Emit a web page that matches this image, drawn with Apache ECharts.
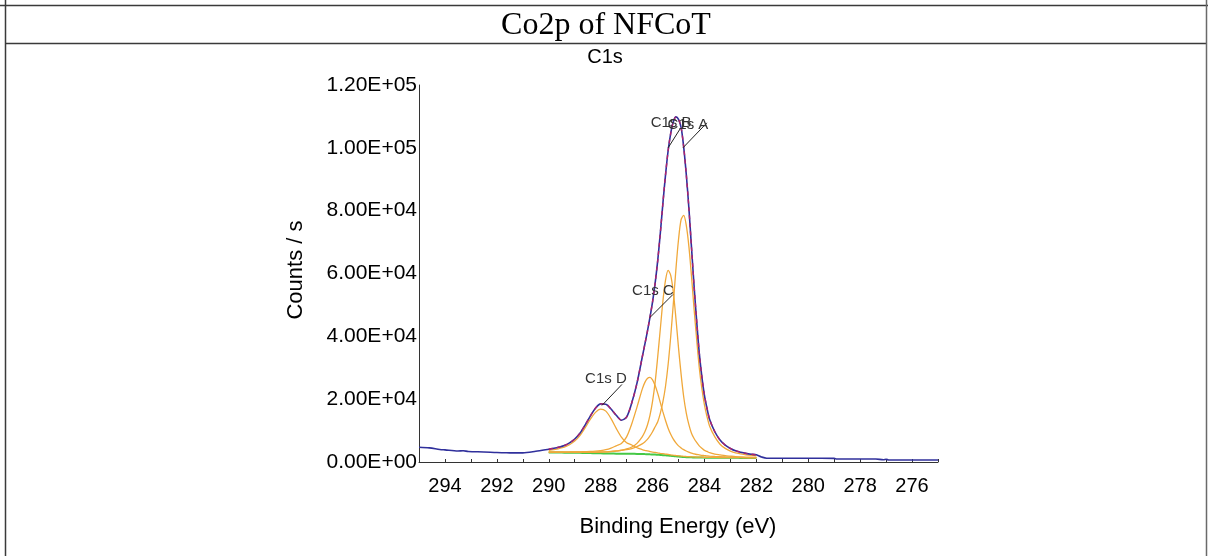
<!DOCTYPE html>
<html>
<head>
<meta charset="utf-8">
<script src="https://cdn.jsdelivr.net/npm/echarts@6/dist/echarts.min.js"></script>
<style>
  html, body { margin: 0; padding: 0; background: #ffffff; }
  #chart { width: 1208px; height: 556px; }
</style>
</head>
<body>
<div id="chart"></div>
<script>
// C1s region: binding energies (eV) of the fitted region
const regionEnergy = [
  290.0, 289.8, 289.6, 289.4, 289.2, 289.0, 288.8, 288.6, 288.4, 288.2,
  288.0, 287.8, 287.6, 287.4, 287.2, 287.0, 286.8, 286.6, 286.4,
  286.3, 286.2, 286.1, 286.0, 285.9, 285.8, 285.7, 285.6, 285.5, 285.4,
  285.3, 285.2, 285.1, 285.0, 284.9, 284.8, 284.7, 284.6, 284.5, 284.4,
  284.3, 284.2, 284.1, 284.0, 283.9, 283.8,
  283.6, 283.4, 283.2, 283.0, 282.8, 282.6, 282.4, 282.2, 282.0
];

// Shirley-type background (counts / s)
const background = [
  3000, 3000, 2990, 2980, 2960, 2940, 2910, 2880, 2840, 2800,
  2760, 2720, 2690, 2660, 2640, 2620, 2600, 2580, 2540,
  2510, 2480, 2440, 2400, 2350, 2300, 2240, 2180, 2110, 2040,
  1960, 1880, 1800, 1730, 1660, 1600, 1550, 1510, 1480, 1450,
  1430, 1410, 1400, 1390, 1380, 1370,
  1360, 1350, 1340, 1330, 1320, 1310, 1300, 1290, 1280
];

// Fitted components, drawn on top of the background (counts / s)
const peakA = [
  3150, 3160, 3170, 3170, 3170, 3160, 3160, 3160, 3150, 3170,
  3190, 3230, 3370, 3480, 3690, 3940, 4290, 4890, 5770,
  6360, 7180, 8290, 9640, 11210, 12800, 15540, 19180, 24110, 31040,
  39960, 50380, 61300, 70730, 77120, 78520, 75320, 68650, 59230, 48730,
  39010, 30050, 23420, 18180, 14390, 11380,
  7980, 5660, 4340, 3490, 2900, 2580, 2300, 2090, 1930
];
const peakB = [
  3110, 3120, 3120, 3120, 3120, 3110, 3100, 3100, 3090, 3100,
  3120, 3220, 3330, 3520, 3740, 4140, 4780, 5940, 8030,
  9530, 11680, 14830, 19270, 25420, 33570, 42420, 51270, 57870, 60980,
  59430, 54100, 45760, 36420, 27970, 20780, 15590, 11890, 9150, 7470,
  6210, 5130, 4350, 3690, 3360, 2960,
  2520, 2260, 2010, 1860, 1720, 1620, 1560, 1510, 1470
];
const peakC = [
  3110, 3120, 3140, 3160, 3180, 3210, 3240, 3290, 3340, 3460,
  3640, 3920, 4430, 5160, 5900, 8000, 12180, 17480, 23120,
  25270, 26560, 26920, 26120, 24350, 21830, 18900, 15950, 13210, 10760,
  8820, 7270, 6110, 5140, 4480, 3930, 3490, 3130, 2800, 2580,
  2390, 2270, 2130, 2030, 1920, 1850,
  1750, 1670, 1600, 1550, 1490, 1460, 1420, 1400, 1380
];
const peakD = [
  3705, 3960, 4290, 4740, 5500, 6650, 8380, 10850, 13560, 15800,
  16820, 16190, 13800, 10700, 7900, 6100, 5420, 4530, 3960,
  3720, 3540, 3340, 3160, 3030, 2890, 2760, 2640, 2520, 2410,
  2280, 2170, 2070, 1980, 1890, 1810, 1745, 1690, 1645, 1600,
  1570, 1540, 1520, 1500, 1485, 1470,
  1455, 1440, 1425, 1410, 1395, 1380, 1365, 1350, 1340
];

// Envelope of the fit (counts / s)
const envelope = [
  4075, 4360, 4750, 5250, 6090, 7310, 9150, 11760, 14620, 17130,
  18490, 18400, 16860, 14880, 13310, 14320, 18870, 25100, 33260,
  37350, 41520, 46060, 50990, 56960, 64190, 72900, 82500, 91380, 99070,
  104610, 108280, 109840, 109080, 106480, 100240, 91500, 80830, 68390, 56030,
  44890, 34760, 27220, 21230, 17020, 13550,
  9630, 6980, 5360, 4320, 3550, 3110, 2750, 2480, 2280
];

// Measured spectrum outside the fitted region
const scanLowEnergySideE = [281.8, 281.6, 281.0, 280.0, 279.0, 278.9, 278.0, 277.4, 277.1, 277.0, 276.9, 276.0, 275.0];
const scanLowEnergySideC = [1600, 1200, 1180, 1180, 1150, 960, 960, 950, 700, 860, 650, 640, 640];
const scanHighEnergySideE = [295.0, 294.6, 294.2, 294.0, 293.5, 293.3, 293.1, 292.5, 292.0, 291.7, 291.5, 291.0, 290.5];
const scanHighEnergySideC = [4700, 4500, 4000, 3850, 3500, 3600, 3350, 3200, 3000, 2950, 2900, 2900, 3400];

// Component labels and where their leaders touch the envelope
const labelNames = ['C1s A', 'C1s B', 'C1s C', 'C1s D'];
const labelEnergy = [284.83, 285.40, 286.10, 287.95];
const labelCounts = [100000, 100000, 46000, 18000];

// Axis settings
const xRange = [275, 295];
const yTicks = [0, 20000, 40000, 60000, 80000, 100000, 120000];

const FONT = '"Liberation Sans", Arial, sans-serif';
const pair = (xs, ys) => xs.map((x, i) => [x, ys[i]]);

function sci(v) {
  const s = Number(v).toExponential(2).toUpperCase();
  const parts = s.split('E');
  const sign = parts[1][0];
  const digits = parts[1].slice(1).padStart(2, '0');
  return parts[0] + 'E' + sign + digits;
}

// leader line end (dx, dy) and label centre relative to that end (tx, ty), in px
const leaderStyle = [
  [24, -25, -19, 2],
  [12, -19, -9, -6],
  [23, -23, -20, -4],
  [20, -21, -16, -6]
];

const countsLine = pair(scanHighEnergySideE, scanHighEnergySideC)
  .concat(pair(regionEnergy, envelope))
  .concat(pair(scanLowEnergySideE, scanLowEnergySideC));

const chart = echarts.init(document.getElementById('chart'), null, { renderer: 'canvas' });

const lineBase = { type: 'line', showSymbol: false, symbol: 'none', smooth: 0.3, animation: false };
const orange = '#F0A83A';

const option = {
  animation: false,
  backgroundColor: '#ffffff',
  grid: { left: 419, right: 270, top: 85, bottom: 94 },
  xAxis: {
    type: 'value',
    min: xRange[0],
    max: xRange[1],
    interval: 1,
    inverse: true,
    axisLine: { lineStyle: { color: '#333333', width: 1 } },
    axisTick: { inside: true, length: 3, lineStyle: { color: '#333333' } },
    splitLine: { show: false },
    axisLabel: {
      formatter: v => (v % 2 === 0 ? String(v) : ''),
      color: '#000000', fontSize: 20, fontFamily: FONT, margin: 14
    }
  },
  yAxis: {
    type: 'value',
    min: yTicks[0],
    max: yTicks[yTicks.length - 1],
    interval: yTicks[1] - yTicks[0],
    axisLine: { show: true, lineStyle: { color: '#333333', width: 1 } },
    axisTick: { show: false },
    splitLine: { show: false },
    axisLabel: {
      formatter: sci, color: '#000000', fontSize: 21, fontFamily: FONT,
      margin: 2, padding: [4, 0, 0, 0]
    }
  },
  series: [
    Object.assign({}, lineBase, {
      name: 'Background', data: pair(regionEnergy, background), z: 2,
      lineStyle: { color: '#45C845', width: 2 }
    }),
    Object.assign({}, lineBase, {
      name: 'C1s A', data: pair(regionEnergy, peakA), z: 3,
      lineStyle: { color: orange, width: 1.3 }
    }),
    Object.assign({}, lineBase, {
      name: 'C1s B', data: pair(regionEnergy, peakB), z: 3,
      lineStyle: { color: orange, width: 1.3 }
    }),
    Object.assign({}, lineBase, {
      name: 'C1s C', data: pair(regionEnergy, peakC), z: 3,
      lineStyle: { color: orange, width: 1.3 }
    }),
    Object.assign({}, lineBase, {
      name: 'C1s D', data: pair(regionEnergy, peakD), z: 3,
      lineStyle: { color: orange, width: 1.3 }
    }),
    Object.assign({}, lineBase, {
      name: 'Counts', data: countsLine, z: 4,
      lineStyle: { color: '#30309C', width: 1.6 }
    }),
    Object.assign({}, lineBase, {
      name: 'Envelope', data: pair(regionEnergy, envelope), z: 5,
      lineStyle: { color: '#B0236C', width: 1.4, type: [4, 4] }
    }),
    {
      type: 'custom',
      name: 'Labels',
      z: 6,
      animation: false,
      encode: { x: 0, y: 1 },
      data: labelNames.map((n, i) => [labelEnergy[i], labelCounts[i]]),
      renderItem: function (params, api) {
        const p = api.coord([api.value(0), api.value(1)]);
        const s = leaderStyle[params.dataIndex];
        const ex = p[0] + s[0], ey = p[1] + s[1];
        return {
          type: 'group',
          children: [
            { type: 'line', shape: { x1: p[0], y1: p[1], x2: ex, y2: ey },
              style: { stroke: '#222222', lineWidth: 1 } },
            { type: 'text', x: ex + s[2], y: ey + s[3],
              style: { text: labelNames[params.dataIndex], fill: '#333333',
                       font: '15px ' + FONT, align: 'center', verticalAlign: 'middle' } }
          ]
        };
      }
    }
  ],
  graphic: [
    { type: 'line', shape: { x1: 0, y1: 5.5, x2: 1208, y2: 5.5 }, style: { stroke: '#3a3a3a', lineWidth: 1.5 } },
    { type: 'line', shape: { x1: 5, y1: 43.5, x2: 1207, y2: 43.5 }, style: { stroke: '#3a3a3a', lineWidth: 1.5 } },
    { type: 'line', shape: { x1: 5.5, y1: 0, x2: 5.5, y2: 556 }, style: { stroke: '#3a3a3a', lineWidth: 1.5 } },
    { type: 'line', shape: { x1: 1206.5, y1: 0, x2: 1206.5, y2: 556 }, style: { stroke: '#6a6a6a', lineWidth: 1.5 } },
    { type: 'text', x: 606, y: 26,
      style: { text: 'Co2p of NFCoT', font: '32px "Liberation Serif", "Times New Roman", serif',
               fill: '#000000', textAlign: 'center', textVerticalAlign: 'middle' } },
    { type: 'text', x: 605, y: 57,
      style: { text: 'C1s', font: '20px ' + FONT, fill: '#000000',
               textAlign: 'center', textVerticalAlign: 'middle' } },
    { type: 'text', x: 678, y: 527,
      style: { text: 'Binding Energy (eV)', font: '22px ' + FONT, fill: '#000000',
               textAlign: 'center', textVerticalAlign: 'middle' } },
    { type: 'text', x: 296, y: 270, rotation: Math.PI / 2,
      style: { text: 'Counts / s', font: '22px ' + FONT, fill: '#000000',
               textAlign: 'center', textVerticalAlign: 'middle' } }
  ]
};

chart.setOption(option);
</script>
</body>
</html>
